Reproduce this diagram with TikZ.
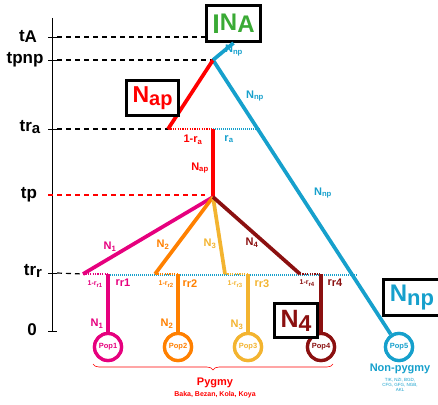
\documentclass[tikz,border=0pt]{standalone}
\usepackage{fontspec}
\setmainfont{Liberation Sans}
\usetikzlibrary{decorations.pathreplacing}
\definecolor{cred}{RGB}{255,0,0}
\definecolor{cblue}{RGB}{22,160,204}
\definecolor{cpink}{RGB}{230,0,126}
\definecolor{corange}{RGB}{255,128,0}
\definecolor{cyellow}{RGB}{243,180,48}
\definecolor{cdark}{RGB}{139,16,16}
\definecolor{cgreen}{RGB}{58,170,53}
\newcommand\fs[1]{\fontsize{#1}{#1}\selectfont}
\newcommand\lowr[2][0.3ex]{\raisebox{-#1}{#2}}
\begin{document}
\begin{tikzpicture}[x=1pt,y=-1pt,
  every node/.style={inner sep=0pt, font=\bfseries},
  guide/.style={black, line width=1.2pt, dash pattern=on 5pt off 4pt},
  redguide/.style={cred, line width=1.2pt, dash pattern=on 5pt off 4pt},
  axis/.style={black, line width=0.9pt},
  br/.style={line width=3.7pt, draw=#1},
  dots/.style={line width=2.5pt, draw=#1, dash pattern=on 1.2pt off 1.2pt},
  fine/.style={cblue, line width=1.2pt, dash pattern=on 1pt off 1pt},
  pop/.style={circle, draw=#1, text=#1, line width=3.3pt, minimum size=27pt, fill=white, font=\bfseries\fs{7.5}},
  bx/.style={draw=black, line width=3pt, fill=white},
  axl/.style={font=\bfseries\fs{17}},
  lab/.style={text=#1, font=\bfseries\fs{11}},
  slab/.style={text=#1, font=\bfseries\fs{7}}]
\useasboundingbox (0,0) rectangle (438,404);

% coordinates
\coordinate (axT) at (52,18);
\coordinate (axB) at (52,331);
\coordinate (kA) at (48,37);   \coordinate (kAr) at (57,37);
\coordinate (kP) at (48,60);   \coordinate (kPr) at (57,60);
\coordinate (kR) at (48,129);  \coordinate (kRr) at (57,129);
\coordinate (kT) at (48,195);
\coordinate (kQ) at (48,273);  \coordinate (kQr) at (57,273);
\coordinate (k0) at (48,331);  \coordinate (k0r) at (57,331);
\coordinate (inaW) at (205,37);
\coordinate (tpE) at (205,195);
\coordinate (apex) at (213,60);
\coordinate (raL) at (168,129);
\coordinate (raC) at (213,129);
\coordinate (raR) at (260,129);
\coordinate (tp) at (213,197);
\coordinate (p1) at (83,274);
\coordinate (p2) at (155,274);
\coordinate (p3) at (225,274);
\coordinate (p4) at (300,274);
\coordinate (v1) at (108,274);
\coordinate (v2) at (178,274);
\coordinate (v3) at (248,274);
\coordinate (v4) at (321,274);
\coordinate (bE) at (357,275);
\coordinate (bS) at (108,275);

% pop nodes
\node[pop=cpink] (pop1) at (108,347) {Pop1};
\node[pop=corange] (pop2) at (178,347) {Pop2};
\node[pop=cyellow] (pop3) at (248,347) {Pop3};
\node[pop=cdark] (pop4) at (321,347) {Pop4};
\node[pop=cblue] (pop5) at (399,347) {Pop5};

% axis and guides
\draw[axis] (axT) -- (axB);
\foreach \a/\b in {kA/kAr,kP/kPr,kR/kRr,kQ/kQr,k0/k0r} \draw[axis] (\a) -- (\b);
\draw[guide] (kAr) -- (inaW);
\draw[guide] (kPr) -- (apex);
\draw[guide] (kRr) -- (raL);
\draw[guide] (kQr) -- (p1);
\draw[redguide] (kT) -- (tpE);

% fine blue dotted lines
\draw[fine] (raC) -- (raR);
\draw[fine] (bS) -- (bE);

% branches
\draw[br=cblue] (apex) -- (pop5);
\draw[br=cred] (apex) -- (raL);
\draw[dots=cred] (raL) -- (raC);
\draw[br=cred] (raC) -- (tp);
\draw[br=cpink] (tp) -- (p1);
\draw[br=corange] (tp) -- (p2);
\draw[br=cyellow] (tp) -- (p3);
\draw[br=cdark] (tp) -- (p4);
\draw[dots=cpink] (p1) -- (v1);
\draw[dots=corange] (p2) -- (v2);
\draw[dots=cyellow] (p3) -- (v3);
\draw[dots=cdark] (p4) -- (v4);
\draw[br=cpink] (v1) -- (pop1);
\draw[br=corange] (v2) -- (pop2);
\draw[br=cyellow] (v3) -- (pop3);
\draw[br=cdark] (v4) -- (pop4);
% redraw pop circles on top
\node[pop=cpink] at (pop1) {Pop1};
\node[pop=corange] at (pop2) {Pop2};
\node[pop=cyellow] at (pop3) {Pop3};
\node[pop=cdark] at (pop4) {Pop4};
\node[pop=cblue] at (pop5) {Pop5};

% boxes
\node[bx, minimum width=54pt, minimum height=36pt] (ina) at (233.5,23.5)
  {\color{cgreen}\fs{27}\lowr[1pt]{I}\fs{24}\raisebox{2.5pt}{N}A};
\draw[br=cblue] (ina.south) -- (apex);
\node[bx, minimum width=52pt, minimum height=35pt] (nap) at (152.5,98)
  {\color{cred}\fs{23}N\lowr[3pt]{\fs{20}ap}};
\node[bx, minimum width=43pt, minimum height=34pt] (n4) at (296,320.5)
  {\color{cdark}\fs{25}N\lowr[4pt]{\fs{23}4}};
\node[bx, minimum width=57pt, minimum height=36pt] (nnp) at (412,297.5)
  {\color{cblue}\fs{24}N\lowr[4pt]{\fs{22}np}};

% axis labels
\node[axl] (ltA) at (28,36) {t\lowr[1pt]{A}};
\node[axl] (ltpnp) at (25,60) {tpnp};
\node[axl] (ltra) at (30,127) {tr\lowr[2pt]{\fs{15}a}};
\node[axl] (ltp) at (29,195) {tp};
\node[axl] (ltrr) at (33,271) {tr\lowr[2pt]{\fs{15}r}};
\node[axl] (l0) at (32,330) {0};

% branch labels
\node[lab=cblue] (lnp1) at (234,50.5) {N\textsubscript{np}};
\node[lab=cblue] (lnp2) at (255,96) {N\textsubscript{np}};
\node[lab=cblue] (lnp3) at (323,193) {N\textsubscript{np}};
\node[lab=cred] (lnap) at (200,168) {N\textsubscript{ap}};
\node[lab=cred] (l1ra) at (193,140) {1-r\textsubscript{a}};
\node[lab=cblue] (lra) at (229,139) {r\textsubscript{a}};
\node[lab=cpink] (ln1) at (110,247) {N\textsubscript{1}};
\node[lab=corange] (ln2) at (163,245) {N\textsubscript{2}};
\node[lab=cyellow] (ln3) at (210,244) {N\textsubscript{3}};
\node[lab=cdark] (ln4) at (252,243) {N\textsubscript{4}};
\node[lab=cpink] (lb1) at (97,324) {N\textsubscript{1}};
\node[lab=corange] (lb2) at (167,324) {N\textsubscript{2}};
\node[lab=cyellow] (lb3) at (237,325) {N\textsubscript{3}};
\node[slab=cpink] (s1) at (95,284) {1-r\lowr[1.5pt]{\fs{6}r1}};
\node[slab=corange] (s2) at (166,284) {1-r\lowr[1.5pt]{\fs{6}r2}};
\node[slab=cyellow] (s3) at (235,284) {1-r\lowr[1.5pt]{\fs{6}r3}};
\node[slab=cdark] (s4) at (307,283) {1-r\lowr[1.5pt]{\fs{6}r4}};
\node[lab=cpink] (r1) at (123,283) {r\lowr[1.5pt]{r1}};
\node[lab=corange] (r2) at (190,284) {r\lowr[1.5pt]{r2}};
\node[lab=cyellow] (r3) at (262,284) {r\lowr[1.5pt]{r3}};
\node[lab=cdark] (r4) at (335,283) {r\lowr[1.5pt]{r4}};

% brace and group labels
\coordinate (brL) at (93,364);
\coordinate (brR) at (333,364);
\draw[cred, line width=0.6pt, decorate, decoration={brace, mirror, amplitude=6pt}] (brL) -- (brR);
\node[text=cred, font=\bfseries\fs{11}] (pyg) at (215,383) {Pygmy};
\node[text=cred, font=\bfseries\fs{7}] (pygs) at (215,395) {Baka, Bezan, Kola, Koya};
\node[text=cblue, font=\bfseries\fs{11}] (npyg) at (400,369) {Non-pygmy};
\node[text=cblue, font=\fs{4.5}, align=center] (npygs) at (400,385) {TIK, NZI, BGD,\\[0.8pt] CFG, GFG, NGB,\\[0.8pt] AKL};
\end{tikzpicture}
\end{document}
